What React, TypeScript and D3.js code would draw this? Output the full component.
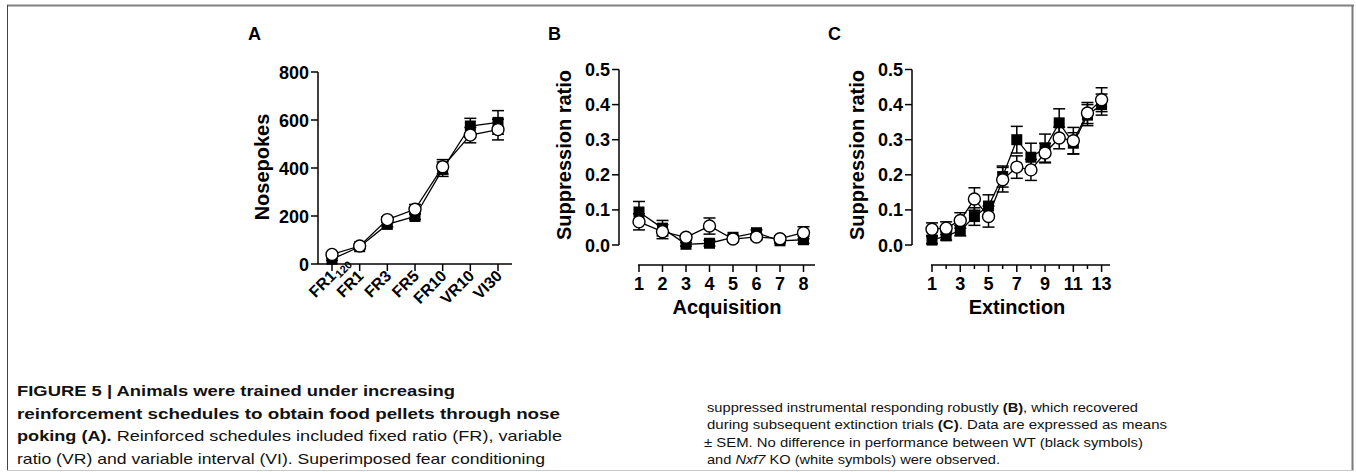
import React from 'react';
import * as d3 from 'd3';

// Panel A: nosepokes per schedule
const schedules = ['FR1', 'FR1', 'FR3', 'FR5', 'FR10', 'VR10', 'VI30'];
const scheduleSub = ['120', '', '', '', '', '', ''];
const noseWT = [20, 72, 165, 198, 395, 575, 590];
const noseWTErr = [5, 8, 10, 12, 30, 32, 49];
const noseKO = [40, 75, 185, 228, 405, 537, 560];
const noseKOErr = [6, 8, 12, 20, 30, 32, 43];
const noseTicks = [0, 200, 400, 600, 800];

// Panel B: acquisition
const acqTrials = [1, 2, 3, 4, 5, 6, 7, 8];
const acqWT = [0.094, 0.048, 0.002, 0.005, 0.022, 0.035, 0.012, 0.015];
const acqWTErr = [0.03, 0.022, 0.005, 0.008, 0.006, 0.008, 0.006, 0.01];
const acqKO = [0.066, 0.038, 0.022, 0.054, 0.017, 0.023, 0.018, 0.035];
const acqKOErr = [0.023, 0.02, 0.008, 0.023, 0.006, 0.008, 0.008, 0.017];

// Panel C: extinction
const extTrials = [1, 2, 3, 4, 5, 6, 7, 8, 9, 10, 11, 12, 13];
const extLabels = [1, 3, 5, 7, 9, 11, 13];
const extWT = [0.014, 0.026, 0.041, 0.081, 0.111, 0.195, 0.3, 0.25, 0.276, 0.348, 0.29, 0.37, 0.4];
const extWTErr = [0.01, 0.012, 0.015, 0.025, 0.032, 0.03, 0.038, 0.04, 0.04, 0.04, 0.03, 0.03, 0.03];
const extKO = [0.045, 0.048, 0.07, 0.131, 0.081, 0.186, 0.222, 0.214, 0.262, 0.305, 0.297, 0.376, 0.414];
const extKOErr = [0.018, 0.018, 0.022, 0.032, 0.03, 0.035, 0.032, 0.03, 0.028, 0.031, 0.038, 0.03, 0.034];
const ratioTicks = [0, 0.1, 0.2, 0.3, 0.4, 0.5];

const FONT = '"Liberation Sans", Arial, Helvetica, sans-serif';

function Series({ xs, ys, errs, x, y }) {
  const line = d3.line().x((d) => d[0]).y((d) => d[1]);
  const pts = xs.map((v, i) => [x(v), y(ys[i])]);
  return (
    <g>
      <path d={line(pts)} fill="none" stroke="#000" strokeWidth={1.3} />
      {pts.map(([px], i) => {
        const top = y(ys[i] + errs[i]);
        const bot = y(ys[i] - errs[i]);
        return (
          <g key={i} stroke="#000" strokeWidth={1.5}>
            <line x1={px} x2={px} y1={top} y2={bot} />
            <line x1={px - 6} x2={px + 6} y1={top} y2={top} />
            <line x1={px - 6} x2={px + 6} y1={bot} y2={bot} />
          </g>
        );
      })}
    </g>
  );
}

function Markers({ xs, ys, x, y, kind }) {
  return (
    <g>
      {xs.map((v, i) => kind === 'square'
        ? <rect key={i} x={x(v) - 5.5} y={y(ys[i]) - 5.5} width={11} height={11} fill="#000" />
        : <circle key={i} cx={x(v)} cy={y(ys[i])} r={6} fill="#fff" stroke="#000" strokeWidth={1.4} />)}
    </g>
  );
}

function YAxis({ y, x0, ticks, fmt }) {
  const [r0, r1] = y.range();
  return (
    <g>
      <line x1={x0} x2={x0} y1={r0} y2={r1} stroke="#000" strokeWidth={1.5} />
      {ticks.map((t) => (
        <g key={t}>
          <line x1={x0 - 7} x2={x0} y1={y(t)} y2={y(t)} stroke="#000" strokeWidth={1.5} />
          <text x={x0 - 9} y={y(t) + 6.5} textAnchor="end" fontSize={18} fontWeight="bold">{fmt(t)}</text>
        </g>
      ))}
    </g>
  );
}

function PanelA() {
  const x = d3.scalePoint().domain(d3.range(schedules.length)).range([332, 498]);
  const y = d3.scaleLinear().domain([0, 800]).range([264, 72]);
  const idx = schedules.map((_, i) => i);
  return (
    <g>
      <text x={248} y={40} fontSize={18} fontWeight="bold">A</text>
      <YAxis y={y} x0={318} ticks={noseTicks} fmt={(t) => String(t)} />
      <line x1={318} x2={512} y1={264} y2={264} stroke="#000" strokeWidth={1.5} />
      {idx.map((i) => (
        <g key={i}>
          <line x1={x(i)} x2={x(i)} y1={264} y2={271} stroke="#000" strokeWidth={1.5} />
          <g transform={`translate(${x(i) + 5},${277}) rotate(-45)`}>
            <text textAnchor="end" fontSize={16} fontWeight="bold">{schedules[i]}</text>
            {scheduleSub[i] && <text x={1} y={3} fontSize={11} fontWeight="bold">{scheduleSub[i]}</text>}
          </g>
        </g>
      ))}
      <text transform="translate(269,167) rotate(-90)" textAnchor="middle" fontSize={20} fontWeight="bold">Nosepokes</text>
      <Series xs={idx} ys={noseWT} errs={noseWTErr} x={x} y={y} />
      <Series xs={idx} ys={noseKO} errs={noseKOErr} x={x} y={y} />
      <Markers xs={idx} ys={noseWT} x={x} y={y} kind="square" />
      <Markers xs={idx} ys={noseKO} x={x} y={y} kind="circle" />
    </g>
  );
}

function PanelB() {
  const x = d3.scaleLinear().domain([1, 8]).range([639, 803.5]);
  const y = d3.scaleLinear().domain([0, 0.5]).range([245, 69.5]);
  return (
    <g>
      <text x={548} y={40} fontSize={18} fontWeight="bold">B</text>
      <YAxis y={y} x0={619} ticks={ratioTicks} fmt={d3.format('.1f')} />
      <line x1={638} x2={815} y1={265} y2={265} stroke="#000" strokeWidth={1.5} />
      {acqTrials.map((t) => (
        <g key={t}>
          <line x1={x(t)} x2={x(t)} y1={265} y2={272} stroke="#000" strokeWidth={1.5} />
          <text x={x(t)} y={290} textAnchor="middle" fontSize={18} fontWeight="bold">{t}</text>
        </g>
      ))}
      <text x={727} y={314} textAnchor="middle" fontSize={20} fontWeight="bold">Acquisition</text>
      <text transform="translate(571,155) rotate(-90)" textAnchor="middle" fontSize={20} fontWeight="bold">Suppression ratio</text>
      <Series xs={acqTrials} ys={acqWT} errs={acqWTErr} x={x} y={y} />
      <Series xs={acqTrials} ys={acqKO} errs={acqKOErr} x={x} y={y} />
      <Markers xs={acqTrials} ys={acqWT} x={x} y={y} kind="square" />
      <Markers xs={acqTrials} ys={acqKO} x={x} y={y} kind="circle" />
    </g>
  );
}

function PanelC() {
  const x = d3.scaleLinear().domain([1, 13]).range([932, 1101.6]);
  const y = d3.scaleLinear().domain([0, 0.5]).range([245, 69.5]);
  return (
    <g>
      <text x={828} y={40} fontSize={18} fontWeight="bold">C</text>
      <YAxis y={y} x0={912} ticks={ratioTicks} fmt={d3.format('.1f')} />
      <line x1={931} x2={1110} y1={265} y2={265} stroke="#000" strokeWidth={1.5} />
      {extTrials.map((t) => {
        const major = extLabels.includes(t);
        return (
          <g key={t}>
            <line x1={x(t)} x2={x(t)} y1={265} y2={major ? 272 : 269} stroke="#000" strokeWidth={1.5} />
            {major && <text x={x(t)} y={290} textAnchor="middle" fontSize={18} fontWeight="bold">{t}</text>}
          </g>
        );
      })}
      <text x={1017} y={314} textAnchor="middle" fontSize={20} fontWeight="bold">Extinction</text>
      <text transform="translate(864,155) rotate(-90)" textAnchor="middle" fontSize={20} fontWeight="bold">Suppression ratio</text>
      <Series xs={extTrials} ys={extWT} errs={extWTErr} x={x} y={y} />
      <Series xs={extTrials} ys={extKO} errs={extKOErr} x={x} y={y} />
      <Markers xs={extTrials} ys={extWT} x={x} y={y} kind="square" />
      <Markers xs={extTrials} ys={extKO} x={x} y={y} kind="circle" />
    </g>
  );
}

function Caption() {
  const rows = [396, 418.5, 441, 463.5];
  const rowsR = [411.5, 429, 446.5, 464];
  const b = { fontWeight: 'bold' };
  return (
    <g fill="#111">
      <g fontSize={15}>
        <text x={17} y={rows[0]} textLength={438} lengthAdjust="spacingAndGlyphs" style={b}>FIGURE 5 | Animals were trained under increasing</text>
        <text x={17} y={rows[1]} textLength={543} lengthAdjust="spacingAndGlyphs" style={b}>reinforcement schedules to obtain food pellets through nose</text>
        <text x={17} y={rows[2]} textLength={545} lengthAdjust="spacingAndGlyphs">
          <tspan fontWeight="bold">poking (A).</tspan> Reinforced schedules included fixed ratio (FR), variable
        </text>
        <text x={17} y={rows[3]} textLength={528} lengthAdjust="spacingAndGlyphs">ratio (VR) and variable interval (VI). Superimposed fear conditioning</text>
      </g>
      <g fontSize={13.5}>
        <text x={707} y={rowsR[0]} textLength={431} lengthAdjust="spacingAndGlyphs">
          suppressed instrumental responding robustly <tspan fontWeight="bold">(B)</tspan>, which recovered
        </text>
        <text x={707} y={rowsR[1]} textLength={460} lengthAdjust="spacingAndGlyphs">
          during subsequent extinction trials <tspan fontWeight="bold">(C)</tspan>. Data are expressed as means
        </text>
        <text x={704} y={rowsR[2]} textLength={439} lengthAdjust="spacingAndGlyphs">± SEM. No difference in performance between WT (black symbols)</text>
        <text x={707} y={rowsR[3]} textLength={293} lengthAdjust="spacingAndGlyphs">
          and <tspan fontStyle="italic">Nxf7</tspan> KO (white symbols) were observed.
        </text>
      </g>
    </g>
  );
}

export default function App() {
  return (
    <svg width={1356} height={472} viewBox="0 0 1356 472"
      style={{ position: 'absolute', left: 0, top: 0, background: '#fff' }}
      fontFamily={FONT}>
      <rect width={1356} height={472} fill="#fff" />
      <line x1={7} x2={1354} y1={5.5} y2={5.5} stroke="#808080" strokeWidth={2} />
      <line x1={7.5} x2={7.5} y1={5} y2={471} stroke="#444" strokeWidth={1} />
      <line x1={1352.5} x2={1352.5} y1={5} y2={471} stroke="#7a7a7a" strokeWidth={2} />
      <line x1={7} x2={1354} y1={470.5} y2={470.5} stroke="#c8c8c8" strokeWidth={1} />
      <PanelA />
      <PanelB />
      <PanelC />
      <Caption />
    </svg>
  );
}
